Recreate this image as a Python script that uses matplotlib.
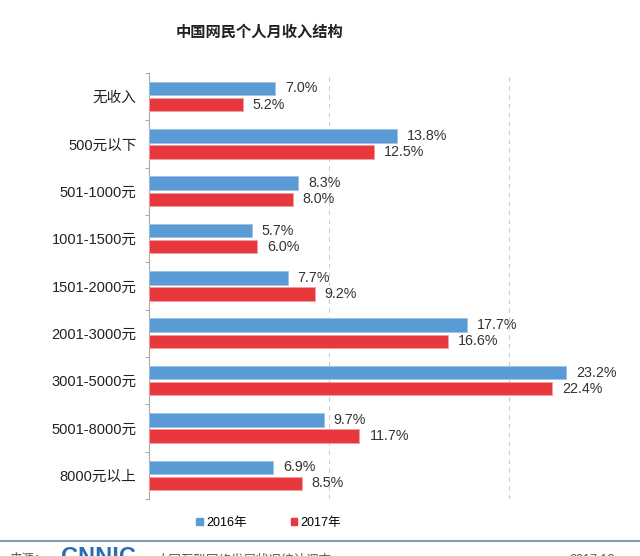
import numpy as np
import matplotlib.pyplot as plt

plt.rcParams['font.family'] = ['Liberation Sans', 'Noto Sans CJK SC']

categories = ['无收入', '500元以下', '501-1000元', '1001-1500元', '1501-2000元',
              '2001-3000元', '3001-5000元', '5001-8000元', '8000元以上']
values_2016 = [7.0, 13.8, 8.3, 5.7, 7.7, 17.7, 23.2, 9.7, 6.9]
values_2017 = [5.2, 12.5, 8.0, 6.0, 9.2, 16.6, 22.4, 11.7, 8.5]
series_names = ['2016年', '2017年']

blue = '#5b9bd5'
red = '#e8383d'

fig = plt.figure(figsize=(6.4, 5.56), dpi=100)
ax = fig.add_axes([0.233, 0.1025, 0.767, 0.7665])

y = np.arange(len(categories))
h = 0.285
off = 0.17
ax.barh(y - off, values_2016, height=h, color=blue, edgecolor='#9cc3e6', linewidth=0.6, zorder=3)
ax.barh(y + off, values_2017, height=h, color=red, edgecolor='#f0a0a0', linewidth=0.6, zorder=3)

for yi, v in zip(y, values_2016):
    ax.text(v + 0.55, yi - off, f'{v:.1f}%', va='center', ha='left', fontsize=10.3, color='#333333')
for yi, v in zip(y, values_2017):
    ax.text(v + 0.55, yi + off, f'{v:.1f}%', va='center', ha='left', fontsize=10.3, color='#333333')

ax.set_xticks([10, 20])
ax.set_xlim(0, 27.3)
ax.set_ylim(len(categories) - 0.5, -0.5)
ax.set_yticks(y)
ax.set_yticklabels(categories, fontsize=10.5, color='#222222')
ax.set_yticks(np.arange(-0.5, len(categories), 1), minor=True)
ax.tick_params(axis='y', which='major', length=0, pad=9)
ax.tick_params(axis='y', which='minor', length=3, color='#999999')
ax.tick_params(axis='x', length=0, labelbottom=False)
ax.grid(axis='x', linestyle=(0, (4, 4)), color='#cccccc', linewidth=0.8, zorder=0)
for s in ['top', 'right', 'bottom']:
    ax.spines[s].set_visible(False)
ax.spines['left'].set_color('#aaaaaa')

fig.text(0.406, 0.942, '中国网民个人月收入结构', ha='center', va='center',
         fontsize=11, fontweight='bold', color='#222222')

handles = [plt.Rectangle((0, 0), 1, 1, color=blue), plt.Rectangle((0, 0), 1, 1, color=red)]
fig.legend(handles, series_names, loc='center', bbox_to_anchor=(0.42, 0.06), ncol=2,
           frameon=False, fontsize=9, handlelength=0.5, handleheight=0.5,
           handletextpad=0.3, columnspacing=3.5)

fig.add_artist(plt.Line2D([0.0, 1.0], [0.027, 0.027], color='#7f9bb8', linewidth=1.5))
fig.text(0.015, -0.008, '来源：', fontsize=9, color='#555555', va='center')
fig.text(0.095, -0.003, 'CNNIC', fontsize=17, fontweight='bold', color='#2a6db5', va='center')
fig.text(0.245, -0.008, '中国互联网络发展状况统计调查', fontsize=9, color='#555555', va='center')
fig.text(0.96, -0.008, '2017.12', fontsize=9, color='#555555', va='center', ha='right')

fig.savefig('out.png', dpi=100)
